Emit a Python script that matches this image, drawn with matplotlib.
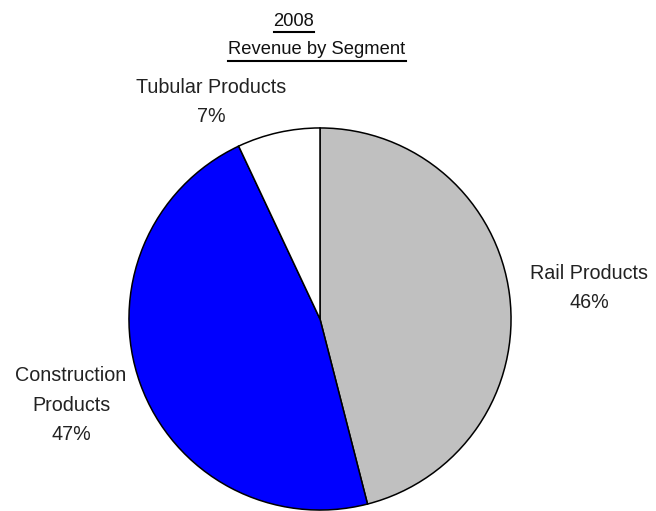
import matplotlib.pyplot as plt
from matplotlib.lines import Line2D

plt.rcParams['font.family'] = ['Liberation Sans', 'DejaVu Sans']

# revenue share by segment, 2008
segments = ['Rail Products', 'Construction\nProducts', 'Tubular Products']
shares = [46, 47, 7]
colors = ['#c0c0c0', '#0000ff', '#ffffff']

W, H = 656, 511
fig = plt.figure(figsize=(W / 100, H / 100), dpi=100)

def fx(px):
    return px / W

def fy(py):
    return 1 - py / H

# pie axes: centre (320, 319), radius 192 px
cx, cy, r = 320, 319, 192
ax = fig.add_axes([fx(cx - r), fy(cy + r), 2 * r / W, 2 * r / H])
ax.pie(shares, colors=colors, startangle=90, counterclock=False,
       wedgeprops=dict(edgecolor='black', linewidth=1.1))
ax.set_xlim(-1.005, 1.005)
ax.set_ylim(-1.005, 1.005)
ax.set_aspect('equal')
ax.axis('off')

# slice labels
label_pos = {
    'Rail Products': (589, 288),
    'Construction\nProducts': (71, 405),
    'Tubular Products': (211, 102),
}
for seg, val in zip(segments, shares):
    x, y = label_pos[seg]
    fig.text(fx(x), fy(y), f'{seg}\n{val}%', ha='center', va='center',
             fontsize=14.2, linespacing=1.7, color='#222222')

# underlined two-line title
titles = [('2008', 294, 21), ('Revenue by Segment', 317, 50)]
fig.canvas.draw()
renderer = fig.canvas.get_renderer()
for txt, x, y in titles:
    t = fig.text(fx(x), fy(y), txt, ha='center', va='center', fontsize=13.2,
                 color='#111111')
    bb = t.get_window_extent(renderer).transformed(fig.transFigure.inverted())
    uy = bb.y0 - 3 / H
    fig.add_artist(Line2D([bb.x0, bb.x1], [uy, uy], transform=fig.transFigure,
                          color='black', linewidth=1.5))

fig.savefig('out.png', dpi=100)
